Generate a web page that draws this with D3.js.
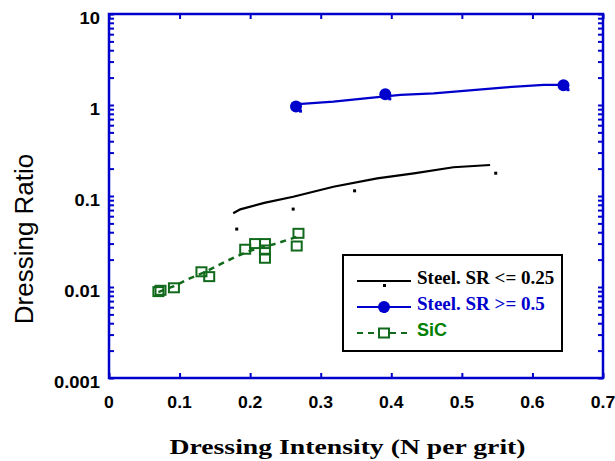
<!DOCTYPE html>
<html>
<head>
<meta charset="utf-8">
<script src="https://cdn.jsdelivr.net/npm/d3@7"></script>
<style>
body { margin: 0; background: #fff; }
svg { display: block; }
</style>
</head>
<body>
<div id="chart"></div>
<script>
var X_TICKS = [0, 0.1, 0.2, 0.3, 0.4, 0.5, 0.6, 0.7];
var Y_TICKS = [0.001, 0.01, 0.1, 1, 10];
var Y_LABELS = ['0.001', '0.01', '0.1', '1', '10'];

// Steel, SR <= 0.25
var lowFitX = [0.176, 0.186, 0.22, 0.261, 0.318, 0.38, 0.432, 0.488, 0.54];
var lowFitY = [0.0645, 0.0714, 0.084, 0.098, 0.1265, 0.156, 0.177, 0.207, 0.219];
var lowDotX = [0.181, 0.261, 0.348, 0.548];
var lowDotY = [0.0433, 0.0718, 0.114, 0.178];

// Steel, SR >= 0.5
var highFitX = [0.268, 0.318, 0.363, 0.413, 0.46, 0.507, 0.562, 0.616, 0.649];
var highFitY = [1.02, 1.087, 1.185, 1.29, 1.345, 1.436, 1.565, 1.66, 1.66];
var highPtX = [0.265, 0.3915, 0.644];
var highPtY = [0.96, 1.31, 1.65];

// SiC
var sicFitX = [0.07, 0.092, 0.112, 0.135, 0.165, 0.18, 0.2, 0.237, 0.268];
var sicFitY = [0.0088, 0.0102, 0.0122, 0.0145, 0.019, 0.0215, 0.025, 0.030, 0.036];
var sicPtX = [0.070, 0.073, 0.092, 0.131, 0.142, 0.193, 0.207, 0.221, 0.221, 0.221, 0.2685, 0.266];
var sicPtY = [0.0089, 0.0092, 0.0098, 0.0147, 0.013, 0.026, 0.030, 0.030, 0.0255, 0.0207, 0.0389, 0.0282];

var LEGEND = ['Steel. SR <= 0.25', 'Steel. SR >= 0.5', 'SiC'];

var BLUE = '#0000cc';
var GREEN = '#116a1c';
var SANS = 'Liberation Sans, Arial, sans-serif';
var SERIF = 'Liberation Serif, Times New Roman, serif';

var WIDTH = 615, HEIGHT = 461;
var margin = {top: 14, left: 109, right: 12, bottom: 83};
var W = WIDTH - margin.left - margin.right;
var H = HEIGHT - margin.top - margin.bottom;

function zip(xs, ys) {
    return xs.map(function(x, i) { return [x, ys[i]]; });
}

var sx = d3.scaleLinear().domain([0, 0.7]).range([0, W]);
var sy = d3.scaleLog().domain([0.001, 10]).range([H, 0]);

var svg = d3.select('#chart').append('svg')
    .attr('width', WIDTH)
    .attr('height', HEIGHT);

var g = svg.append('g')
    .attr('transform', 'translate(' + margin.left + ',' + margin.top + ')');

// minor ticks on the log axis
var minor = [];
for (var k = -3; k < 1; k++) {
    for (var m = 1; m < 10; m++) minor.push(m * Math.pow(10, k));
}
minor.push(10);

var TL = 5;
var ayL = d3.axisLeft(sy).tickValues(minor).tickSize(-TL).tickFormat('');
var ayR = d3.axisRight(sy).tickValues(minor).tickSize(-TL).tickFormat('');
var axB = d3.axisBottom(sx).tickValues(X_TICKS).tickSize(-TL).tickFormat('');
var axT = d3.axisTop(sx).tickValues(X_TICKS).tickSize(-TL).tickFormat('');

var axes = [
    g.append('g').call(ayL),
    g.append('g').attr('transform', 'translate(' + W + ',0)').call(ayR),
    g.append('g').attr('transform', 'translate(0,' + H + ')').call(axB),
    g.append('g').call(axT)
];
axes.forEach(function(a) {
    a.select('.domain').remove();
    a.selectAll('.tick line').attr('stroke', BLUE).attr('stroke-width', 2);
});

g.append('rect')
    .attr('width', W).attr('height', H)
    .attr('fill', 'none')
    .attr('stroke', BLUE)
    .attr('stroke-width', 2.5);

// tick labels (the reference glyphs are a bit wide, hence the x scale)
g.selectAll('.xlab').data(X_TICKS).enter().append('text')
    .attr('transform', function(d) { return 'translate(' + sx(d) + ',' + (H + 30) + ') scale(1.1,1)'; })
    .attr('text-anchor', 'middle')
    .attr('font-family', SANS)
    .attr('font-weight', 'bold')
    .attr('font-size', 16)
    .text(function(d) { return d === 0 ? '0' : d.toFixed(1); });

g.selectAll('.ylab').data(Y_TICKS).enter().append('text')
    .attr('transform', function(d) { return 'translate(-9,' + (sy(d) + 10) + ') scale(1.15,1)'; })
    .attr('text-anchor', 'end')
    .attr('font-family', SANS)
    .attr('font-weight', 'bold')
    .attr('font-size', 16)
    .text(function(d, i) { return Y_LABELS[i]; });

// axis titles
svg.append('text')
    .attr('transform', 'translate(347.5,454) scale(1.26,1)')
    .attr('text-anchor', 'middle')
    .attr('font-family', SERIF)
    .attr('font-weight', 'bold')
    .attr('font-size', 22)
    .text('Dressing Intensity (N per grit)');

svg.append('text')
    .attr('transform', 'translate(33,239) rotate(-90)')
    .attr('text-anchor', 'middle')
    .attr('font-family', SANS)
    .attr('font-size', 26)
    .text('Dressing Ratio');

var line = d3.line()
    .x(function(d) { return sx(d[0]); })
    .y(function(d) { return sy(d[1]); });

// SiC
g.append('path')
    .datum(zip(sicFitX, sicFitY))
    .attr('d', line)
    .attr('fill', 'none')
    .attr('stroke', GREEN)
    .attr('stroke-width', 2.5)
    .attr('stroke-dasharray', '6,5');
g.selectAll('.sic').data(zip(sicPtX, sicPtY)).enter().append('rect')
    .attr('x', function(d) { return sx(d[0]) - 5; })
    .attr('y', function(d) { return sy(d[1]) - 4.5; })
    .attr('width', 10).attr('height', 9)
    .attr('fill', 'none')
    .attr('stroke', GREEN)
    .attr('stroke-width', 2);

// Steel SR <= 0.25
g.append('path')
    .datum(zip(lowFitX, lowFitY))
    .attr('d', line)
    .attr('fill', 'none')
    .attr('stroke', '#000')
    .attr('stroke-width', 2.2);
g.selectAll('.low').data(zip(lowDotX, lowDotY)).enter().append('rect')
    .attr('x', function(d) { return sx(d[0]) - 1.5; })
    .attr('y', function(d) { return sy(d[1]) - 1.5; })
    .attr('width', 3).attr('height', 3)
    .attr('fill', '#000');

// Steel SR >= 0.5
g.append('path')
    .datum(zip(highFitX, highFitY))
    .attr('d', line)
    .attr('fill', 'none')
    .attr('stroke', BLUE)
    .attr('stroke-width', 2.2);
g.selectAll('.high').data(zip(highPtX, highPtY)).enter().append('circle')
    .attr('cx', function(d) { return sx(d[0]); })
    .attr('cy', function(d) { return sy(d[1]); })
    .attr('r', 6)
    .attr('fill', BLUE);
g.selectAll('.highdot').data(zip(highPtX, highPtY)).enter().append('rect')
    .attr('x', function(d) { return sx(d[0]) + 3; })
    .attr('y', function(d) { return sy(d[1]) + 3; })
    .attr('width', 3).attr('height', 3)
    .attr('fill', BLUE);

// legend
var lg = svg.append('g').attr('transform', 'translate(343,255)');
lg.append('rect')
    .attr('width', 219).attr('height', 96)
    .attr('fill', '#fff')
    .attr('stroke', '#000')
    .attr('stroke-width', 2);

var rowY = [26, 52, 78];
var rowColor = ['#000', BLUE, GREEN];
LEGEND.forEach(function(name, i) {
    var y = rowY[i];
    lg.append('line')
        .attr('x1', 14).attr('x2', 68)
        .attr('y1', y).attr('y2', y)
        .attr('stroke', rowColor[i])
        .attr('stroke-width', 2.2)
        .attr('stroke-dasharray', i === 2 ? '6,5' : null);
    if (i === 0) {
        lg.append('rect').attr('x', 40).attr('y', y + 3).attr('width', 3).attr('height', 3).attr('fill', '#000');
    } else if (i === 1) {
        lg.append('circle').attr('cx', 41).attr('cy', y).attr('r', 6).attr('fill', BLUE);
        lg.append('rect').attr('x', 40).attr('y', y + 3).attr('width', 3).attr('height', 3).attr('fill', BLUE);
    } else {
        lg.append('rect').attr('x', 36).attr('y', y - 4.5).attr('width', 10).attr('height', 9)
            .attr('fill', '#fff').attr('stroke', GREEN).attr('stroke-width', 2);
    }
    lg.append('text')
        .attr('x', 74)
        .attr('y', y + 3)
        .attr('font-family', i === 2 ? SANS : SERIF)
        .attr('font-weight', 'bold')
        .attr('font-size', i === 2 ? 18 : 19)
        .attr('fill', i === 2 ? '#008000' : rowColor[i])
        .text(name);
});
</script>
</body>
</html>
